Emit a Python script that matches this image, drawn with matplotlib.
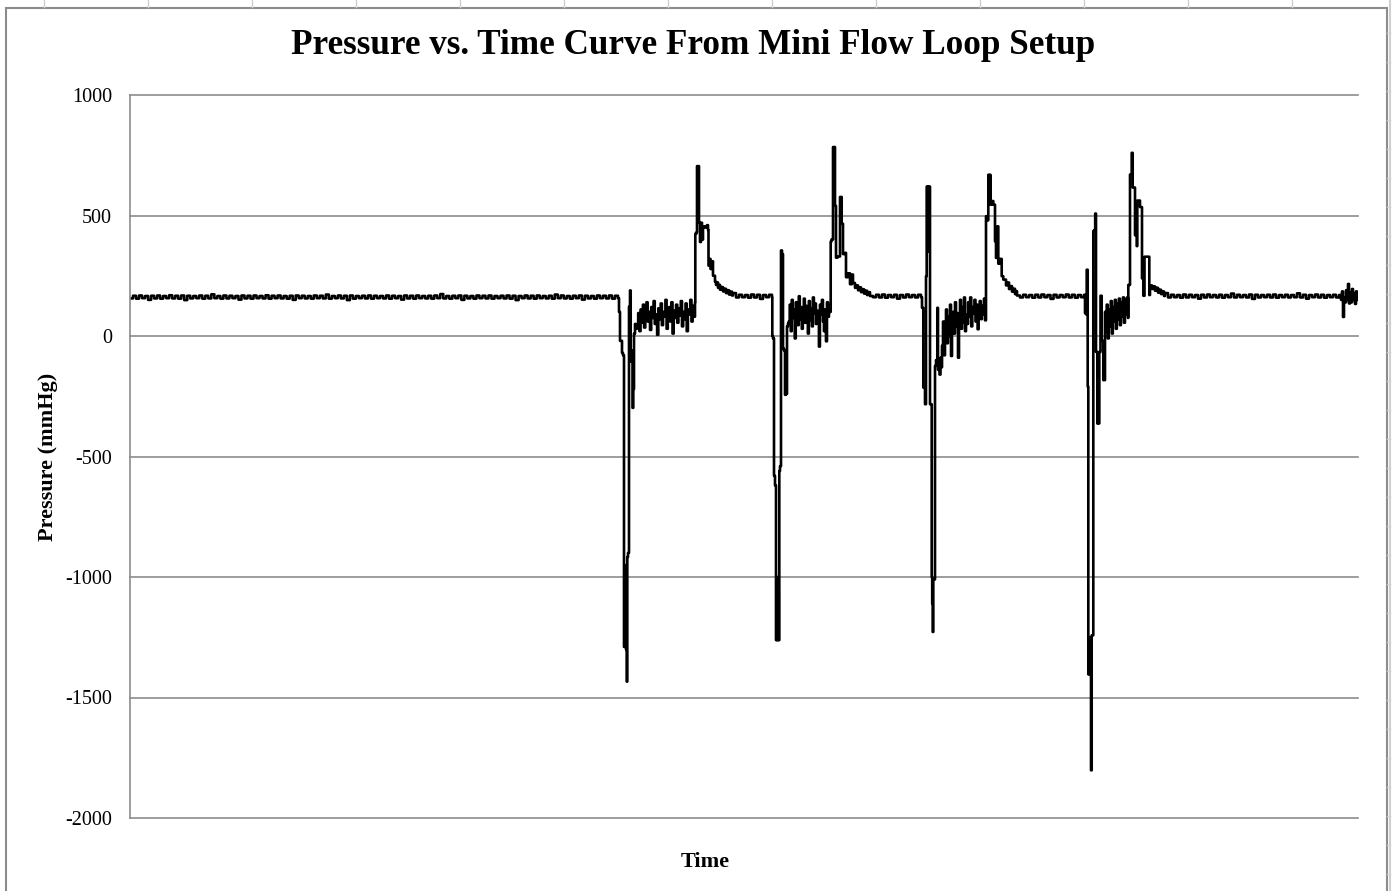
# Curva de presión vs. tiempo del mini circuito de flujo
import matplotlib.pyplot as plt
import numpy as np
from matplotlib.lines import Line2D
from matplotlib.patches import Rectangle

titulo = "Pressure vs. Time Curve From Mini Flow Loop Setup"
etiqueta_y = "Pressure (mmHg)"
etiqueta_x = "Time"
marcas_y = [-2000, -1500, -1000, -500, 0, 500, 1000]

# línea base inicial, muestras de t = 0 a 488
base_1 = [156, 167, 155, 168, 157, 166, 150, 167, 156, 168, 155, 166, 157, 169, 156, 167,
          155, 168, 149, 167, 156, 166, 157, 168, 155, 167, 156, 173, 157, 166, 155, 168,
          156, 167, 157, 166, 151, 168, 156, 167, 155, 168, 157, 166, 156, 169, 155, 167,
          157, 168, 156, 166, 155, 167, 150, 168, 157, 167, 156, 166, 155, 168, 157, 167,
          156, 172, 155, 166, 157, 168, 156, 167, 149, 168, 155, 166, 157, 167, 156, 168,
          155, 167, 157, 166, 156, 168, 155, 167, 157, 166, 151, 168, 156, 167, 155, 168,
          157, 166, 156, 167, 155, 168, 157, 174, 156, 166, 155, 167, 157, 168, 150, 167,
          156, 166, 155, 168, 157, 167, 156, 168, 155, 166, 157, 167, 156, 168, 155, 167,
          149, 166, 157, 168, 156, 167, 155, 168, 157, 166, 156, 167, 155, 172, 157, 168,
          156, 166, 155, 167, 157, 168, 151, 167, 156, 166, 155, 168, 157, 167, 156, 168,
          155, 167, 157]

# evento 1
ev1_t = [489, 490, 492, 493, 494, 494.5, 495, 495.7, 496, 496.7, 497.3, 498, 499, 500,
         500.7, 501.5, 502.5, 503.3, 504, 505, 506]
ev1_p = [100, -20, -70, -80, -1290, -950, -1290, -1000, -1300, -1434, -917, -900, 122, 189,
         -106, -60, -298, -220, 10, 50, 30]
ruido_1 = [40, 95, 20, 110, 55, 130, 35, 85, 140, 60, 100, 25, 120, 75, 145, 50, 90, 5, 115,
           70, 135, 45, 100, 80, 150, 30, 95, 120, 60, 140, 10, 105, 75, 130, 55, 115, 85,
           145, 40, 100, 70, 135, 20, 110, 90, 150, 60, 125, 80, 140]
rec1_t = [565.3, 566.5, 567, 567.7, 568.5, 569, 570, 571, 572, 573, 575, 577, 578, 578.5,
          579.5, 580.5, 581.5, 583, 585, 586, 587, 588, 589, 590, 591, 593, 594, 596, 597,
          599, 600, 602, 603]
rec1_p = [425, 430, 705, 560, 705, 470, 390, 470, 400, 455, 450, 460, 440, 292,
          320, 278, 310, 250, 225, 212, 222, 200, 212, 192, 203, 185, 196, 178, 190,
          172, 184, 168, 178]
base_2 = [160, 171, 161, 170, 159, 172, 160, 171, 154, 170, 161, 171, 160]

# evento 2
ev2_t = [642.3, 643, 644, 645, 646, 646.7, 647.3, 648, 648.7, 649.3, 650, 651, 652, 653,
         654, 655, 656, 657, 658]
ev2_p = [0, -10, -580, -620, -1262, -1000, -1262, -1050, -1262, -560, -540, 355, 340, -52,
         -60, -244, -240, 40, 52]
ruido_2 = [60, 130, 20, 150, 75, 110, -10, 140, 90, 45, 165, 70, 120, 30, 100, 155, 55, 125,
           85, 10, 145, 65, 115, 40, 160, 95, 135, 50, 105, 75, -44, 130, 90, 150, 60, 20,
           110, -22, 140, 80, 125, 100]
rec2_t = [700.7, 701.5, 703, 703.7, 704.3, 705, 706, 707.5, 710, 711.7, 713, 715, 716, 718,
          720, 722, 723, 725, 726, 728, 729, 731, 732, 734, 735, 737, 738, 740]
rec2_p = [392, 400, 784, 650, 784, 540, 325, 330, 577, 466, 340, 345, 244, 260,
          215, 255, 220, 200, 210, 190, 202, 182, 194, 176, 188, 170, 182, 166]
base_3 = [161, 171, 160, 172, 159, 170, 161, 171, 155, 170, 160, 172, 161, 170, 160, 171, 161]

# evento 3
ev3_t = [792, 793.3, 795, 796, 796.7, 797.3, 798, 798.7, 799.3, 800, 801.7, 802.2, 802.7,
         803.3, 805, 806, 807.3, 808, 809.5, 810.5, 811.7]
ev3_p = [117, -214, -283, 248, 620, 350, 620, 400, 620, -283, -1000, -1110, -1228,
         -1010, -124, -100, 117, -140, -160, -90, -130]
ruido_3a = [-40, 60, -80, 20, 110, -30, 80, 0, 130, -83, 50, 100, 10, 140, 40, 95, -90, 70,
            150, 30, 120, 55, 160, 20, 90]
ruido_3b = [50, 140, 80, 160, 40, 120, 95, 150, 60, 130, 28, 110, 145, 70, 125, 90, 155, 65]
rec3_t = [856, 857, 858.3, 859, 860, 860.5, 862, 863.3, 865, 866, 867.3, 868.3, 870, 871.7,
          873.3, 876, 877, 879, 880, 882, 883, 885, 886, 887]
rec3_p = [497, 480, 669, 560, 669, 545, 560, 545, 393, 324, 455, 300, 320, 248,
          234, 210, 222, 195, 207, 184, 196, 174, 186, 168]
base_4 = [160, 171, 161, 170, 159, 171, 160, 172, 161, 170, 154, 171, 160, 170, 161, 172,
          160, 171, 159, 170, 161, 171]

# evento 4
ev4_t = [955, 956, 956.7, 957.7, 958.3, 959, 959.7, 960.3, 961, 961.7, 962.5, 963.3, 964.3,
         965.2, 966, 967.3, 968, 968.7, 969.3, 970.5, 971.7, 973.3, 975]
ev4_p = [95, 90, 275, -210, -1404, -1250, -1404, -1260, -1802, -1242, -1242, 436, 440,
         508, -66, -363, -100, -363, -66, 167, -20, -183, 100]
ruido_4 = [20, 130, -10, 110, 40, 145, 10, 120, 60, 150, 30, 135, 70, 155, 45, 140, 80, 160,
           55, 150, 90, 160, 75]
rec4_t = [998.3, 1000, 1001.7, 1002.7, 1004, 1005, 1006.7, 1007.3, 1008.3, 1010, 1011.7,
          1012, 1013.3, 1014.5, 1018.3, 1019.3, 1020, 1022, 1023, 1025, 1026, 1028, 1029,
          1031, 1032, 1034, 1035]
rec4_p = [212, 670, 760, 616, 616, 418, 373, 562, 562, 535, 535,
          239, 167, 329, 329, 170, 210, 195, 206, 188, 200, 180, 192,
          174, 185, 166, 178]
base_5 = [160, 171, 161, 170, 159, 172, 160, 171, 161, 170, 155, 171, 160, 172, 161, 170,
          160, 171, 159, 170, 161, 176, 160, 171, 161, 170, 160, 172, 154, 171, 160, 170,
          161, 171, 160, 172, 159, 170, 161, 171, 160, 170, 161, 177, 160, 171, 155, 170,
          161, 172, 160, 171, 159, 170, 161, 171, 160, 170]
fin_t = [1210, 1211, 1212, 1213, 1214, 1215, 1216, 1217, 1218, 1219, 1220, 1221, 1222,
         1223, 1224, 1225, 1226, 1227, 1228]
fin_p = [170, 150, 185, 79, 160, 140, 190, 150, 216, 135, 180, 140, 195, 150, 175, 133,
         185, 150, 170]


def uniforme(t0, t1, valores):
    return list(np.linspace(t0, t1, len(valores))), list(valores)


def armar_serie():
    tramos = [
        uniforme(0, 488, base_1), (ev1_t, ev1_p),
        uniforme(507, 565, ruido_1), (rec1_t, rec1_p),
        uniforme(606, 642, base_2), (ev2_t, ev2_p),
        uniforme(658.7, 700, ruido_2), (rec2_t, rec2_p),
        uniforme(743, 791, base_3), (ev3_t, ev3_p),
        uniforme(812, 836, ruido_3a), uniforme(837, 855, ruido_3b), (rec3_t, rec3_p),
        uniforme(890, 954, base_4), (ev4_t, ev4_p),
        uniforme(975.7, 998, ruido_4), (rec4_t, rec4_p),
        uniforme(1038, 1209, base_5), (fin_t, fin_p),
    ]
    t, p = [], []
    for tt, pp in tramos:
        t += list(tt)
        p += list(pp)
    return np.array(t), np.array(p)


def graficar():
    plt.rcParams["font.family"] = ["Liberation Serif", "DejaVu Serif"]
    plt.rcParams["axes.unicode_minus"] = False
    t, p = armar_serie()

    W, H = 1393, 891
    fig = plt.figure(figsize=(W / 100, H / 100), dpi=100)

    # marco del gráfico y restos de la hoja de cálculo alrededor
    fig.patches.append(Rectangle((6 / W, -0.01), (1387 - 6) / W, 1.01 - 8 / H,
                                 transform=fig.transFigure, fill=False,
                                 edgecolor="#8c8c8c", linewidth=1.5))
    gris_claro = "#d0d0d0"
    fig.lines.append(Line2D([1390 / W, 1390 / W], [0, 1], transform=fig.transFigure,
                            color=gris_claro, linewidth=1.5))
    for yy in range(33, H, 29):
        fig.lines.append(Line2D([1387 / W, 1390 / W], [1 - yy / H, 1 - yy / H],
                                transform=fig.transFigure, color=gris_claro, linewidth=1))
    for xx in range(44, 1300, 104):
        fig.lines.append(Line2D([xx / W, xx / W], [1, 1 - 7 / H],
                                transform=fig.transFigure, color=gris_claro, linewidth=1))

    ax = fig.add_axes([130 / W, 1 - 818 / H, 1228 / W, 723 / H])
    ax.plot(t, p, color="black", linewidth=1.9, drawstyle="steps-post")
    ax.set_xlim(0, 1228)
    ax.set_ylim(-2000, 1000)
    ax.set_yticks(marcas_y)
    ax.set_xticks([])
    ax.tick_params(axis="y", length=0, pad=13, labelsize=14.5)
    for s in ["top", "right", "bottom"]:
        ax.spines[s].set_visible(False)
    ax.spines["left"].set_color("#8c8c8c")
    ax.spines["left"].set_linewidth(1.2)
    for v in marcas_y:
        ax.axhline(v, color="#8c8c8c", linewidth=1.2, zorder=0, clip_on=False)

    fig.text(693 / W, 1 - 46 / H, titulo, ha="center", va="center",
             fontsize=25.3, fontweight="bold")
    fig.text(48 / W, 1 - 457 / H, etiqueta_y, ha="center", va="center", rotation=90,
             fontsize=16, fontweight="bold")
    fig.text(705 / W, 1 - 862 / H, etiqueta_x, ha="center", va="center",
             fontsize=16, fontweight="bold")

    fig.savefig("out.png", dpi=100)
    plt.close(fig)


if __name__ == "__main__":
    graficar()
